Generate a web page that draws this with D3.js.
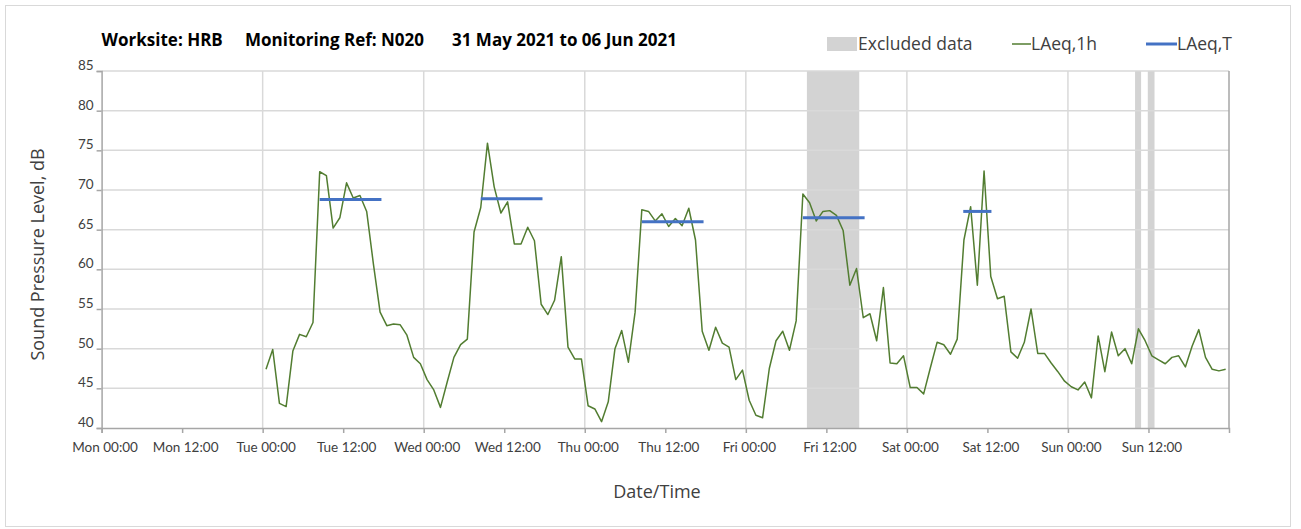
<!DOCTYPE html>
<html>
<head>
<meta charset="utf-8">
<script src="https://cdn.jsdelivr.net/npm/d3@7"></script>
<style>
  html, body { margin: 0; padding: 0; background: #fff; }
  svg { display: block; font-family: "Open Sans", "Noto Sans", sans-serif; }
</style>
</head>
<body>
<svg id="chart" width="1301" height="529"></svg>
<script>
// ---- Data ----
const titleParts = ["Worksite: HRB", "Monitoring Ref: N020", "31 May 2021 to 06 Jun 2021"];
const tickHours = [0, 12, 24, 36, 48, 60, 72, 84, 96, 108, 120, 132, 144, 156];
const tickLabels = ["Mon 00:00", "Mon 12:00", "Tue 00:00", "Tue 12:00", "Wed 00:00", "Wed 12:00",
  "Thu 00:00", "Thu 12:00", "Fri 00:00", "Fri 12:00", "Sat 00:00", "Sat 12:00", "Sun 00:00", "Sun 12:00"];
const yTicks = [40, 45, 50, 55, 60, 65, 70, 75, 80, 85];
const firstHour = 24.5; // hours after Mon 00:00 of the first hourly value
const laeq1h = [
  47.4, 49.9, 43.1, 42.7, 49.7, 51.8, 51.5, 53.3, 72.3, 71.8, 65.2, 66.5, 70.9, 69.0, 69.3, 67.3,
  60.7, 54.6, 52.9, 53.1, 53.0, 51.7, 48.9, 48.1,
  46.1, 44.8, 42.6, 45.8, 48.9, 50.5, 51.2, 64.7, 67.8, 75.9, 70.4, 67.1, 68.5, 63.2, 63.2, 65.3,
  63.6, 55.6, 54.3, 56.1, 61.6, 50.2, 48.7, 48.7,
  42.8, 42.4, 40.8, 43.3, 50.0, 52.3, 48.3, 54.6, 67.5, 67.3, 66.1, 67.0, 65.4, 66.4, 65.5, 67.7,
  63.7, 52.2, 49.8, 52.7, 50.7, 50.2, 46.1, 47.3,
  43.5, 41.6, 41.3, 47.5, 51.0, 52.2, 49.8, 53.5, 69.5, 68.4, 66.1, 67.3, 67.4, 66.8, 64.9, 58.0,
  60.1, 53.9, 54.4, 51.0, 57.7, 48.2, 48.1, 49.1,
  45.1, 45.1, 44.3, 47.6, 50.8, 50.5, 49.3, 51.2, 63.7, 67.9, 58.0, 72.4, 59.1, 56.3, 56.6, 49.6,
  48.8, 50.8, 55.0, 49.4, 49.4, 48.2, 47.1, 45.9,
  45.2, 44.8, 45.8, 43.8, 51.6, 47.1, 52.1, 49.1, 50.0, 48.1, 52.5, 51.0, 49.1, 48.6, 48.1, 48.9,
  49.1, 47.7, 50.3, 52.4, 48.9, 47.4, 47.2, 47.4
];
const laeqTStart = [32.5, 56.5, 80.5, 104.5, 128.4];
const laeqTEnd   = [41.7, 65.7, 89.7, 113.7, 132.6];
const laeqTValue = [68.8, 68.9, 66.0, 66.5, 67.3];
const excludedStart = [105.1, 154.0, 155.9];
const excludedEnd   = [112.9, 154.9, 156.9];
const legendLabels = ["Excluded data", "LAeq,1h", "LAeq,T"];

(function () {
// ---- Layout ----
const svg = d3.select("#chart");
const mLeft = 101.6, mRight = 1229, mTop = 71, mBottom = 428;
const x = d3.scaleLinear().domain([0, 168]).range([mLeft, mRight]);
const y = d3.scaleLinear().domain([40, 85]).range([mBottom, mTop]);

const gridCol = "#d9d9d9", axisCol = "#a6a6a6", textCol = "#404040";
const green = "#527d31", blue = "#4472c4", grey = "#d3d3d3";

// outer border
svg.append("rect").attr("x", 5.5).attr("y", 5.5).attr("width", 1285).attr("height", 521)
  .attr("fill", "#fff").attr("stroke", "#d9d9d9").attr("stroke-width", 1);

// excluded data
svg.append("g").selectAll("rect").data(excludedStart).join("rect")
  .attr("x", (d) => x(d)).attr("y", mTop)
  .attr("width", (d, i) => x(excludedEnd[i]) - x(d)).attr("height", mBottom - mTop)
  .attr("fill", grey);

// horizontal gridlines
svg.append("g").selectAll("line").data(yTicks.filter(v => v > 40)).join("line")
  .attr("x1", mLeft).attr("x2", mRight).attr("y1", d => y(d)).attr("y2", d => y(d))
  .attr("stroke", gridCol).attr("stroke-width", 1.5);
// vertical gridlines (daily)
svg.append("g").selectAll("line").data(tickHours.filter(h => h % 24 === 0 && h > 0).concat([168])).join("line")
  .attr("x1", d => x(d)).attr("x2", d => x(d)).attr("y1", mTop).attr("y2", mBottom)
  .attr("stroke", d => d === 168 ? axisCol : gridCol).attr("stroke-width", 1.5);

// axes
const xAxis = d3.axisBottom(x).tickValues(tickHours).tickSize(5)
  .tickFormat((d, i) => tickLabels[i]);
const gx = svg.append("g").attr("transform", `translate(0,${mBottom})`).call(xAxis);
gx.select(".domain").attr("stroke", axisCol).attr("stroke-width", 1.5);
gx.selectAll(".tick line").attr("stroke", axisCol).attr("stroke-width", 1.5);
gx.selectAll(".tick text").attr("fill", textCol).attr("font-size", 13.5).attr("dy", "1.15em")
  .attr("dx", 3).attr("font-family", "Lato, 'Open Sans', sans-serif");

const yAxis = d3.axisLeft(y).tickValues(yTicks).tickSize(5);
const gy = svg.append("g").attr("transform", `translate(${mLeft},0)`).call(yAxis);
gy.select(".domain").attr("stroke", axisCol).attr("stroke-width", 1.5);
gy.selectAll(".tick line").attr("stroke", axisCol).attr("stroke-width", 1.5);
gy.selectAll(".tick text").attr("fill", textCol).attr("font-size", 13.5).attr("dy", "-0.1em")
  .attr("font-family", "Lato, 'Open Sans', sans-serif");

// LAeq,1h line
const line = d3.line().x((d, i) => x(firstHour + i)).y(d => y(d));
svg.append("path").datum(laeq1h).attr("d", line)
  .attr("fill", "none").attr("stroke", green).attr("stroke-width", 1.5).attr("stroke-linejoin", "round");

// LAeq,T segments
svg.append("g").selectAll("line").data(laeqTValue).join("line")
  .attr("x1", (d, i) => x(laeqTStart[i])).attr("x2", (d, i) => x(laeqTEnd[i]))
  .attr("y1", d => y(d)).attr("y2", d => y(d))
  .attr("stroke", blue).attr("stroke-width", 3);

// title
const tX = [mLeft, 245, 452];
svg.append("g").selectAll("text").data(titleParts).join("text")
  .attr("x", (d, i) => tX[i]).attr("y", 46)
  .attr("font-size", 17).attr("font-weight", "bold").attr("fill", "#000").text(d => d);

// legend
const lg = svg.append("g").attr("font-size", 17.5).attr("fill", textCol);
lg.append("rect").attr("x", 827).attr("y", 37).attr("width", 30).attr("height", 14).attr("fill", grey);
lg.append("text").attr("x", 858).attr("y", 50).attr("fill", textCol).text(legendLabels[0]);
lg.append("line").attr("x1", 1012).attr("x2", 1031).attr("y1", 44).attr("y2", 44)
  .attr("stroke", green).attr("stroke-width", 1.5);
lg.append("text").attr("x", 1031).attr("y", 50).attr("fill", textCol).text(legendLabels[1]);
lg.append("line").attr("x1", 1146).attr("x2", 1177).attr("y1", 44).attr("y2", 44)
  .attr("stroke", blue).attr("stroke-width", 3);
lg.append("text").attr("x", 1177).attr("y", 50).attr("fill", textCol).text(legendLabels[2]);

// axis titles
svg.append("text").attr("x", 657).attr("y", 498).attr("text-anchor", "middle")
  .attr("font-size", 18).attr("fill", textCol).text("Date/Time");
svg.append("text").attr("transform", `translate(44,${(mTop + mBottom) / 2 + 5}) rotate(-90)`)
  .attr("text-anchor", "middle").attr("font-size", 18).attr("fill", textCol)
  .text("Sound Pressure Level, dB");
})();
</script>
</body>
</html>
